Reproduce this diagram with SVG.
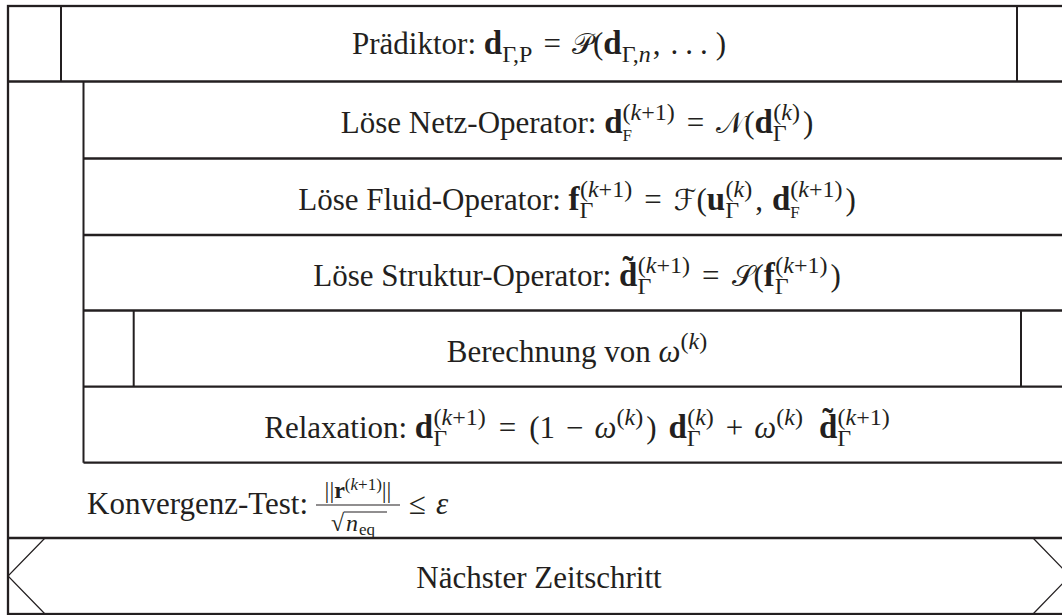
<svg xmlns="http://www.w3.org/2000/svg" width="1062" height="615" viewBox="0 0 1062 615">
  <style>
    .ln { stroke: #231f20; stroke-width: 2.3; fill: none; }
    .vl { stroke: #231f20; stroke-width: 2; fill: none; }
    .th { stroke: #231f20; stroke-width: 1.2; fill: none; }
    text { font-family: "Liberation Serif", "Times New Roman", serif; font-size: 31px; fill: #231f20; }
    .m { text-anchor: middle; }
    .b { font-weight: bold; font-size: 33px; }
    .i { font-style: italic; }
    .s { font-size: 24px; }
    .ss { font-size: 17px; }
    .cal { font-family: "DejaVu Sans", "Noto Sans", sans-serif; font-size: 29px; }
  </style>
  <rect width="1062" height="615" fill="#ffffff"/>

  <!-- structogram frame and separators -->
  <g id="connectors">
    <rect class="ln" x="8" y="6" width="1062" height="608"/>
    <line class="ln" x1="8" y1="81.5" x2="1070" y2="81.5"/>
    <line class="ln" x1="83.5" y1="158.5" x2="1070" y2="158.5"/>
    <line class="ln" x1="83.5" y1="235" x2="1070" y2="235"/>
    <line class="ln" x1="83.5" y1="310.5" x2="1070" y2="310.5"/>
    <line class="ln" x1="83.5" y1="386.7" x2="1070" y2="386.7"/>
    <line class="ln" x1="83.5" y1="462.7" x2="1070" y2="462.7"/>
    <line class="ln" x1="8" y1="538" x2="1070" y2="538"/>
    <line class="vl" x1="83.5" y1="81.5" x2="83.5" y2="462.7"/>
  </g>

  <!-- predictor step (parallel block) -->
  <g id="praediktor">
    <line class="vl" x1="61" y1="6" x2="61" y2="81.5"/>
    <line class="vl" x1="1017" y1="6" x2="1017" y2="81.5"/>
    <text class="m" x="539" y="54">Prädiktor: <tspan class="b">d</tspan><tspan class="s" dy="8">Γ,P</tspan><tspan dy="-8" dx="11">=</tspan><tspan class="cal" dx="11">𝒫</tspan>(<tspan class="b">d</tspan><tspan class="s" dy="8">Γ,<tspan class="i">n</tspan></tspan><tspan dy="-8" dx="2">,</tspan><tspan dx="10">.</tspan><tspan dx="7">.</tspan><tspan dx="7">.</tspan><tspan dx="8">)</tspan></text>
  </g>

  <!-- mesh operator -->
  <g id="netz">
    <text class="m" x="577" y="133">Löse Netz-Operator: <tspan class="b">d</tspan><tspan class="ss" dy="8">F</tspan><tspan class="s" dx="-9.5" dy="-21">(<tspan class="i">k</tspan>+1)</tspan><tspan dy="13" dx="12">=</tspan><tspan class="cal" dx="12">𝒩</tspan>(<tspan class="b">d</tspan><tspan class="s" dy="8">Γ</tspan><tspan class="s" dx="-13.5" dy="-21">(<tspan class="i">k</tspan>)</tspan><tspan dy="13" dx="3">)</tspan></text>
  </g>

  <!-- fluid operator -->
  <g id="fluid">
    <text class="m" x="577" y="210">Löse Fluid-Operator: <tspan class="b">f</tspan><tspan class="s" dy="8">Γ</tspan><tspan class="s" dx="-13.5" dy="-21">(<tspan class="i">k</tspan>+1)</tspan><tspan dy="13" dx="12">=</tspan><tspan class="cal" dx="12">ℱ</tspan>(<tspan class="b">u</tspan><tspan class="s" dy="8">Γ</tspan><tspan class="s" dx="-13.5" dy="-21">(<tspan class="i">k</tspan>)</tspan><tspan dy="13" dx="3">,</tspan><tspan class="b" dx="9">d</tspan><tspan class="ss" dy="8">F</tspan><tspan class="s" dx="-9.5" dy="-21">(<tspan class="i">k</tspan>+1)</tspan><tspan dy="13" dx="3">)</tspan></text>
  </g>

  <!-- structure operator -->
  <g id="struktur">
    <text class="m" x="577" y="286">Löse Struktur-Operator: <tspan class="b">d̃</tspan><tspan class="s" dy="8">Γ</tspan><tspan class="s" dx="-13.5" dy="-21">(<tspan class="i">k</tspan>+1)</tspan><tspan dy="13" dx="12">=</tspan><tspan class="cal" dx="12">𝒮</tspan>(<tspan class="b">f</tspan><tspan class="s" dy="8">Γ</tspan><tspan class="s" dx="-13.5" dy="-21">(<tspan class="i">k</tspan>+1)</tspan><tspan dy="13" dx="3">)</tspan></text>
  </g>

  <!-- relaxation factor (parallel block) -->
  <g id="berechnung">
    <line class="vl" x1="133.7" y1="310.5" x2="133.7" y2="386.7"/>
    <line class="vl" x1="1021" y1="310.5" x2="1021" y2="386.7"/>
    <text class="m" x="577" y="362">Berechnung von <tspan class="i">ω</tspan><tspan class="s" dy="-13">(<tspan class="i">k</tspan>)</tspan></text>
  </g>

  <!-- relaxation update -->
  <g id="relaxation">
    <text class="m" x="577" y="438">Relaxation: <tspan class="b">d</tspan><tspan class="s" dy="8">Γ</tspan><tspan class="s" dx="-13.5" dy="-21">(<tspan class="i">k</tspan>+1)</tspan><tspan dy="13" dx="13">=</tspan><tspan dx="13">(1</tspan><tspan dx="11">−</tspan><tspan class="i" dx="11">ω</tspan><tspan class="s" dy="-13">(<tspan class="i">k</tspan>)</tspan><tspan dy="13" dx="3">)</tspan><tspan class="b" dx="12">d</tspan><tspan class="s" dy="8">Γ</tspan><tspan class="s" dx="-13.5" dy="-21">(<tspan class="i">k</tspan>)</tspan><tspan dy="13" dx="12">+</tspan><tspan class="i" dx="11">ω</tspan><tspan class="s" dy="-13">(<tspan class="i">k</tspan>)</tspan><tspan class="b" dy="13" dx="16">d̃</tspan><tspan class="s" dy="8">Γ</tspan><tspan class="s" dx="-13.5" dy="-21">(<tspan class="i">k</tspan>+1)</tspan></text>
  </g>

  <!-- loop condition -->
  <g id="konvergenz">
    <text x="87" y="514">Konvergenz-Test:</text>
    <text class="s m" x="358" y="498">||<tspan class="b" style="font-size:24px">r</tspan><tspan class="ss" dy="-8">(<tspan class="i">k</tspan>+1)</tspan><tspan dy="8">||</tspan></text>
    <line class="th" x1="316" y1="505" x2="400" y2="505" stroke-width="1.6"/>
    <text class="s" x="331" y="531">√</text>
    <line class="th" x1="344" y1="512" x2="387" y2="512"/>
    <text class="s i" x="346" y="531">n</text>
    <text class="ss" x="359" y="535">eq</text>
    <text x="409" y="514">≤<tspan class="i" dx="10">ε</tspan></text>
  </g>

  <!-- next time step -->
  <g id="zeitschritt">
    <polyline class="th" points="45,538 8,576 45,614"/>
    <polyline class="th" points="1033,538 1070,576 1033,614"/>
    <text class="m" x="539" y="588">Nächster Zeitschritt</text>
  </g>
</svg>
